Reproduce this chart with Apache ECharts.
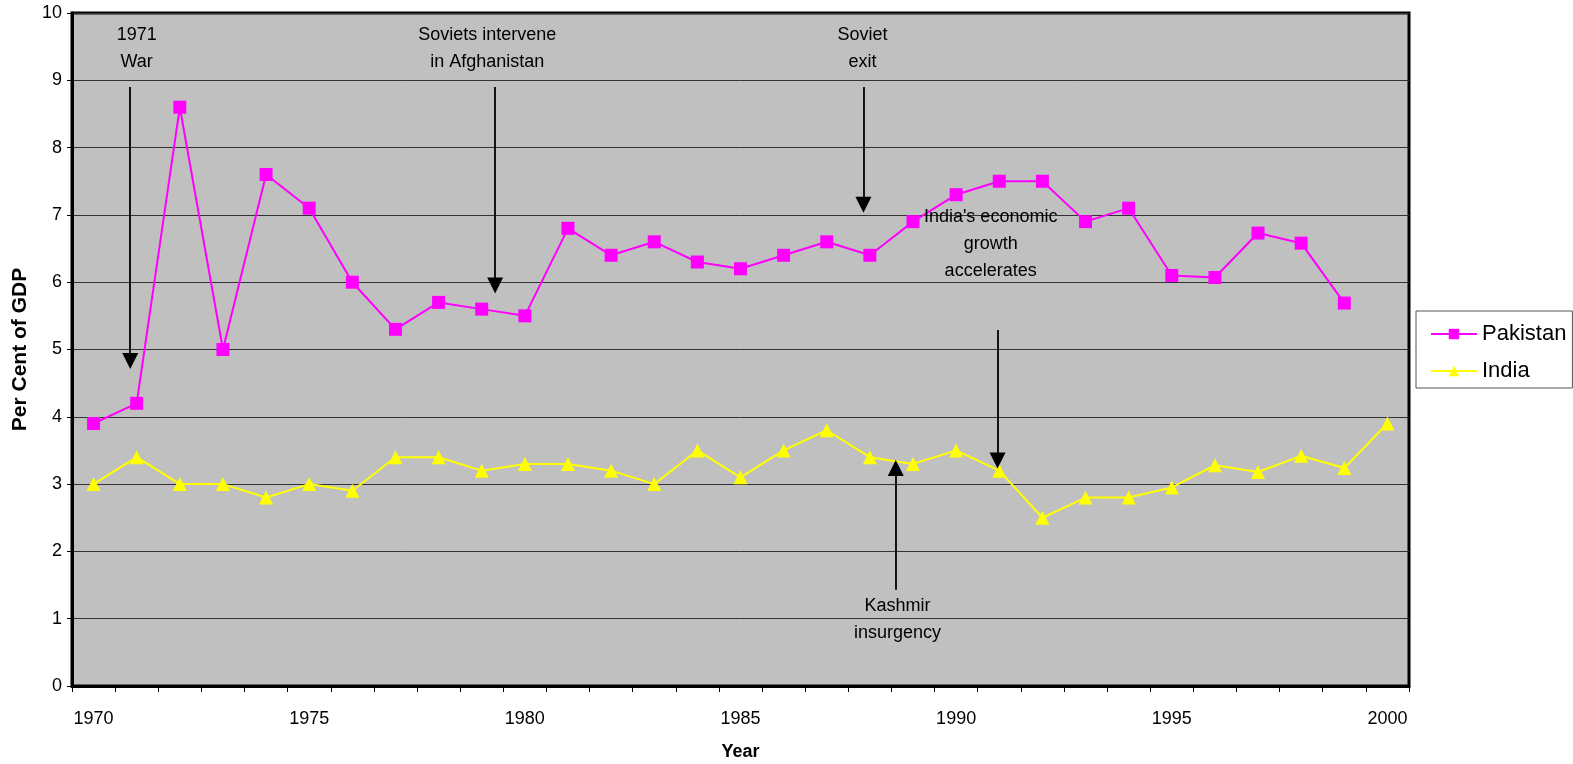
<!DOCTYPE html>
<html><head><meta charset="utf-8">
<script src="https://cdn.jsdelivr.net/npm/echarts@6/dist/echarts.min.js"></script>
<style>html,body{margin:0;padding:0;background:#fff}#c{width:1573px;height:764px}</style>
</head><body><div id="c"></div>
<script>
const years = [];
for (let y = 1970; y <= 2000; y++) years.push(String(y));
const pakistan = [3.9,4.2,8.6,5.0,7.6,7.1,6.0,5.3,5.7,5.6,5.5,6.8,6.4,6.6,6.3,6.2,6.4,6.6,6.4,6.9,7.3,7.5,7.5,6.9,7.1,6.1,6.07,6.73,6.58,5.69,null];
const india = [3.0,3.4,3.0,3.0,2.8,3.0,2.9,3.4,3.4,3.2,3.3,3.3,3.2,3.0,3.5,3.1,3.5,3.8,3.4,3.3,3.5,3.2,2.5,2.8,2.8,2.95,3.28,3.18,3.42,3.24,3.9];
const yTicks = [0,1,2,3,4,5,6,7,8,9,10];
// annotations: [xIndex, yFrom, yTo]
const arrows = [
  [0.85, 8.9, 4.83],
  [9.31, 8.9, 5.95],
  [17.85, 8.9, 7.15],
  [20.96, 5.29, 3.35],
  [18.6, 1.43, 3.24]
];
const notes = [
  [1.0, 9.47, '1971\nWar'],
  [9.13, 9.47, 'Soviets intervene\nin Afghanistan'],
  [17.83, 9.47, 'Soviet\nexit'],
  [20.8, 6.57, "India's economic\ngrowth\naccelerates"],
  [18.64, 0.99, 'Kashmir\ninsurgency']
];
const FONT = '"Liberation Sans", Arial, sans-serif';
const chart = echarts.init(document.getElementById('c'), null, {renderer: 'canvas'});
chart.setOption({
  animation: false,
  backgroundColor: '#ffffff',
  textStyle: {fontFamily: FONT},
  grid: {left: 72, right: 164, top: 13, bottom: 78, outerBoundsMode: 'none', containLabel: false, show: true, backgroundColor: '#c0c0c0', borderColor: '#000', borderWidth: 3},
  legend: {
    orient: 'vertical', left: 1416, top: 311,
    backgroundColor: '#fff', borderColor: '#555', borderWidth: 1,
    padding: [12, 6, 6, 14], itemGap: 15, itemWidth: 46, itemHeight: 13,
    textStyle: {fontSize: 22, color: '#000', fontFamily: FONT},
    data: ['Pakistan', 'India']
  },
  xAxis: [{
    type: 'category', data: years, boundaryGap: true,
    name: 'Year', nameLocation: 'middle', nameGap: 57,
    nameTextStyle: {fontWeight: 'bold', fontSize: 18, color: '#000', fontFamily: FONT},
    axisLine: {lineStyle: {color: '#000', width: 3}},
    axisTick: {show: true, interval: 0, length: 6, inside: false, lineStyle: {color: '#000', width: 1}},
    axisLabel: {interval: 4, fontSize: 18, color: '#000', margin: 24, fontFamily: FONT},
    splitLine: {show: false}
  }, {
    type: 'value', min: -0.5, max: 30.5, show: false
  }],
  yAxis: {
    type: 'value', min: yTicks[0], max: yTicks[yTicks.length - 1], interval: 1,
    name: 'Per Cent of GDP', nameLocation: 'middle', nameGap: 39, nameRotate: 90,
    nameTextStyle: {fontWeight: 'bold', fontSize: 21, color: '#000', fontFamily: FONT},
    axisLine: {show: true, onZero: false, lineStyle: {color: '#000', width: 3}},
    axisTick: {show: true, length: 5, lineStyle: {color: '#000'}},
    axisLabel: {fontSize: 18, color: '#000', margin: 10, fontFamily: FONT},
    splitLine: {show: true, lineStyle: {color: '#333', width: 1}}
  },
  series: [{
    name: 'Pakistan', type: 'line', data: pakistan,
    symbol: 'rect', symbolSize: 13,
    lineStyle: {color: '#ff00ff', width: 2},
    itemStyle: {color: '#ff00ff'}
  }, {
    name: 'India', type: 'line', data: india,
    symbol: 'triangle', symbolSize: 14,
    lineStyle: {color: '#ffff00', width: 2},
    itemStyle: {color: '#ffff00'}
  }, {
    name: 'notes', type: 'line', xAxisIndex: 1, data: [], silent: true,
    markLine: {
      silent: true, animation: false,
      symbol: ['none', 'triangle'], symbolSize: 16,
      lineStyle: {color: '#000', width: 1.8, type: 'solid'},
      label: {show: false},
      data: arrows.map(a => [{coord: [a[0], a[1]]}, {coord: [a[0], a[2]]}])
    },
    markPoint: {
      silent: true, animation: false,
      symbol: 'rect', symbolSize: 1, itemStyle: {color: 'rgba(0,0,0,0)'},
      label: {show: true, position: 'inside', color: '#000', fontSize: 18, lineHeight: 27, fontFamily: FONT, formatter: p => p.name},
      data: notes.map(n => ({name: n[2], coord: [n[0], n[1]]}))
    }
  }]
});
</script></body></html>
